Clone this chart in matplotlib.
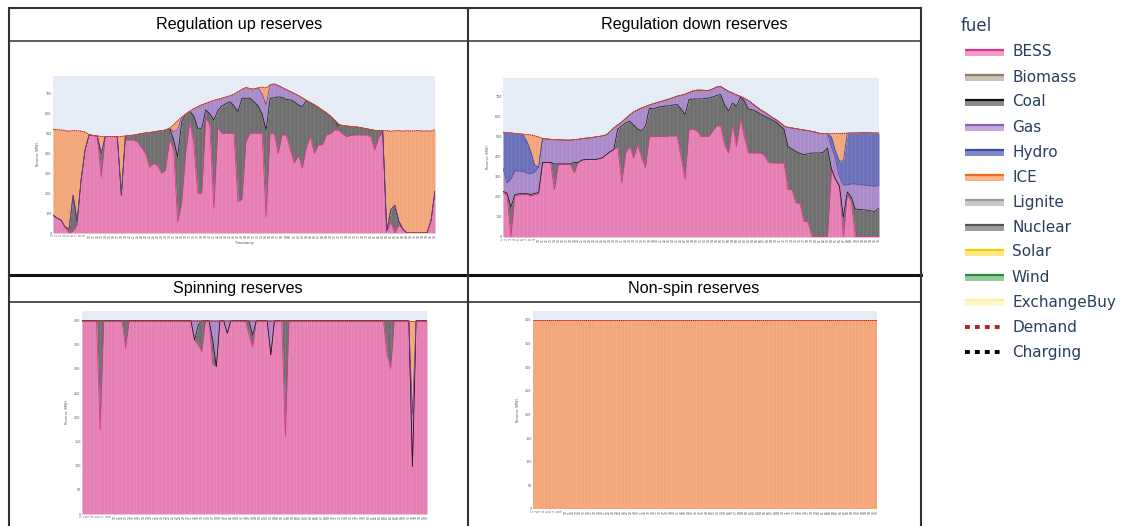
import numpy as np
import matplotlib
matplotlib.use('Agg')
import matplotlib.pyplot as plt

W, H = 1134, 526

# ---- data (96 periods per day) ----
periods = list(range(1, 97))

# Regulation up reserves
ru_bess = [90, 75, 65, 30, 0, 10, 40, 270, 420, 495, 490, 488, 283, 485, 485, 485,
           484, 190, 468, 468, 468, 460, 430, 400, 330, 350, 340, 300, 317, 470, 420, 57,
           150, 400, 560, 450, 200, 200, 577, 544, 124, 530, 502, 502, 502, 502, 158, 170,
           460, 502, 502, 502, 502, 82, 502, 502, 400, 493, 493, 420, 351, 390, 326, 430,
           485, 401, 443, 443, 493, 500, 518, 518, 500, 485, 490, 493, 493, 493, 493, 485,
           417, 480, 510, 10, 56, 0, 40, 20, 0, 0, 0, 0, 0, 0, 60, 210]
ru_coal = [0, 0, 0, 0, 20, 180, 20, 0, 0, 0, 0, 0, 117, 0, 0, 0,
           0, 0, 20, 22, 24, 36, 70, 103, 176, 158, 172, 214, 201, 57, 50, 327,
           410, 198, 52, 140, 327, 327, 43, 56, 445, 85, 138, 148, 159, 138, 453, 508,
           218, 176, 158, 138, 98, 437, 176, 178, 285, 189, 179, 250, 310, 255, 310, 235,
           171, 244, 189, 175, 111, 88, 50, 20, 40, 53, 46, 41, 39, 35, 31, 35,
           99, 35, 4, 0, 60, 140, 20, 0, 0, 0, 0, 0, 0, 0, 0, 0]
ru_gas = [0, 0, 0, 0, 0, 0, 0, 0, 0, 0, 0, 0, 0, 0, 0, 0,
          0, 0, 0, 0, 0, 0, 0, 0, 0, 0, 0, 0, 0, 0, 40, 136,
          22, 0, 0, 35, 108, 118, 32, 60, 98, 57, 38, 34, 29, 58, 99, 44,
          54, 48, 64, 90, 100, 126, 67, 70, 57, 50, 50, 42, 41, 47, 44, 3,
          0, 0, 0, 0, 0, 0, 0, 10, 0, 0, 0, 0, 0, 0, 0, 0,
          0, 0, 0, 0, 0, 0, 0, 0, 0, 0, 0, 0, 0, 0, 0, 0]
ru_ice = [432, 445, 453, 486, 492, 325, 454, 242, 88, 0, 0, 0, 86, 0, 0, 0,
          0, 296, 0, 0, 0, 0, 0, 0, 0, 0, 0, 0, 0, 0, 35, 45,
          0, 0, 0, 0, 0, 0, 0, 0, 0, 0, 0, 0, 0, 0, 0, 0,
          0, 0, 0, 0, 34, 85, 0, 0, 0, 0, 0, 0, 0, 0, 0, 0,
          0, 0, 0, 0, 0, 0, 0, 0, 0, 0, 0, 0, 0, 0, 0, 0,
          0, 0, 0, 505, 396, 374, 455, 492, 515, 513, 514, 516, 512, 514, 452, 310]
ru_demand = [522, 520, 518, 516, 512, 515, 514, 512, 508, 495, 490, 488, 486, 485, 485, 485,
             484, 486, 488, 490, 492, 496, 500, 503, 506, 508, 512, 514, 518, 527, 545, 565,
             582, 598, 612, 625, 635, 645, 652, 660, 667, 672, 678, 684, 690, 698, 710, 722,
             732, 726, 724, 730, 734, 730, 745, 750, 742, 732, 722, 712, 702, 692, 680, 668,
             656, 645, 632, 618, 604, 588, 568, 548, 540, 538, 536, 534, 532, 528, 524, 520,
             516, 515, 514, 515, 512, 514, 515, 512, 515, 513, 514, 516, 512, 514, 512, 520]

# Regulation down reserves
rd_bess = [220, 212, 3, 205, 210, 212, 212, 205, 212, 215, 373, 373, 373, 237, 365, 365,
           365, 365, 320, 373, 385, 387, 387, 387, 390, 395, 410, 425, 437, 450, 270, 420,
           453, 395, 462, 400, 345, 503, 503, 503, 503, 503, 505, 505, 505, 400, 287, 537,
           540, 530, 503, 503, 503, 530, 557, 555, 460, 420, 560, 453, 587, 500, 420, 420,
           420, 420, 410, 375, 370, 370, 370, 370, 237, 237, 170, 170, 78, 78, 3, 3,
           3, 3, 3, 337, 287, 253, 3, 210, 180, 3, 3, 3, 3, 3, 3, 3]
rd_coal = [8, 8, 147, 7, 6, 6, 6, 7, 6, 7, 0, 0, 0, 128, 0, 0,
           0, 0, 53, 0, 0, 0, 0, 0, 0, 0, 0, 0, 0, 90, 285, 150,
           127, 165, 78, 130, 208, 142, 137, 145, 149, 152, 150, 155, 157, 240, 325, 150,
           150, 160, 187, 189, 192, 170, 151, 157, 200, 210, 110, 200, 113, 180, 220, 215,
           208, 195, 195, 220, 215, 205, 185, 170, 216, 203, 258, 248, 334, 337, 417, 417,
           417, 422, 442, 3, 3, 3, 97, 15, 20, 137, 135, 133, 131, 127, 125, 142]
rd_gas = [117, 50, 140, 118, 114, 110, 102, 103, 107, 128, 119, 117, 115, 122, 121, 120,
          119, 119, 113, 115, 107, 107, 109, 112, 112, 110, 100, 100, 108, 20, 20, 22,
          30, 65, 95, 115, 99, 15, 26, 24, 26, 29, 35, 37, 42, 68, 102, 35,
          40, 44, 44, 41, 38, 40, 42, 40, 80, 98, 50, 57, 3, 13, 42, 32,
          24, 22, 20, 17, 13, 12, 17, 15, 95, 105, 114, 120, 123, 117, 108, 104,
          98, 92, 72, 110, 100, 44, 160, 35, 65, 125, 124, 124, 124, 126, 126, 113]
rd_hydro = [178, 252, 230, 188, 186, 186, 160, 115, 35, 0, 0, 0, 0, 0, 0, 0,
            0, 0, 0, 0, 0, 0, 0, 0, 0, 0, 0, 0, 0, 0, 0, 0,
            0, 0, 0, 0, 0, 0, 0, 0, 0, 0, 0, 0, 0, 0, 0, 0,
            0, 0, 0, 0, 0, 0, 0, 0, 0, 0, 0, 0, 0, 0, 0, 0,
            0, 0, 0, 0, 0, 0, 0, 0, 0, 0, 0, 0, 0, 0, 0, 0,
            0, 0, 0, 50, 40, 80, 120, 259, 255, 255, 259, 263, 264, 265, 266, 262]
rd_ice = [0, 0, 0, 0, 0, 0, 32, 80, 146, 150, 0, 0, 0, 0, 0, 0,
          0, 0, 0, 0, 0, 0, 0, 0, 0, 0, 0, 0, 0, 0, 0, 0,
          0, 0, 0, 0, 0, 0, 0, 0, 0, 0, 0, 0, 0, 0, 0, 0,
          0, 0, 0, 0, 0, 0, 0, 0, 0, 0, 0, 0, 0, 0, 0, 0,
          0, 0, 0, 0, 0, 0, 0, 0, 0, 0, 0, 0, 0, 0, 0, 0,
          0, 0, 0, 17, 87, 137, 138, 0, 0, 0, 0, 0, 0, 0, 0, 0]
rd_demand = [523, 522, 520, 518, 516, 514, 512, 510, 506, 500, 492, 490, 488, 487, 486, 485,
             484, 484, 486, 488, 492, 494, 496, 499, 502, 505, 510, 525, 545, 560, 575, 592,
             610, 625, 635, 645, 652, 660, 666, 672, 678, 684, 690, 697, 704, 708, 714, 722,
             730, 734, 734, 733, 733, 740, 750, 752, 740, 728, 720, 710, 703, 693, 682, 667,
             652, 637, 625, 612, 598, 587, 572, 555, 548, 545, 542, 538, 535, 532, 528, 524,
             518, 517, 517, 517, 517, 517, 518, 519, 520, 520, 521, 523, 522, 521, 520, 520]

# Spinning reserves
sp_bess = [400, 400, 400, 400, 400, 174, 400, 400, 400, 400, 400, 400, 343, 400, 400, 400,
           400, 400, 400, 400, 400, 400, 400, 400, 400, 400, 400, 400, 400, 400, 400, 360,
           350, 336, 400, 400, 310, 305, 400, 400, 374, 400, 400, 400, 400, 400, 370, 345,
           400, 400, 400, 400, 329, 400, 400, 400, 160, 400, 400, 400, 400, 400, 400, 400,
           400, 400, 400, 400, 400, 400, 400, 400, 400, 400, 400, 400, 400, 400, 400, 400,
           400, 400, 400, 400, 330, 301, 400, 400, 400, 400, 400, 98, 400, 400, 400, 400]
sp_coal = [0, 0, 0, 0, 0, 226, 0, 0, 0, 0, 0, 0, 57, 0, 0, 0,
           0, 0, 0, 0, 0, 0, 0, 0, 0, 0, 0, 0, 0, 0, 0, 0,
           40, 64, 0, 0, 50, 0, 0, 0, 0, 0, 0, 0, 0, 0, 30, 25,
           0, 0, 0, 0, 0, 0, 0, 0, 240, 0, 0, 0, 0, 0, 0, 0,
           0, 0, 0, 0, 0, 0, 0, 0, 0, 0, 0, 0, 0, 0, 0, 0,
           0, 0, 0, 0, 70, 99, 0, 0, 0, 0, 0, 0, 0, 0, 0, 0]
sp_gas = [0, 0, 0, 0, 0, 0, 0, 0, 0, 0, 0, 0, 0, 0, 0, 0,
          0, 0, 0, 0, 0, 0, 0, 0, 0, 0, 0, 0, 0, 0, 0, 40,
          10, 0, 0, 0, 40, 95, 0, 0, 26, 0, 0, 0, 0, 0, 0, 30,
          0, 0, 0, 0, 71, 0, 0, 0, 0, 0, 0, 0, 0, 0, 0, 0,
          0, 0, 0, 0, 0, 0, 0, 0, 0, 0, 0, 0, 0, 0, 0, 0,
          0, 0, 0, 0, 0, 0, 0, 0, 0, 0, 0, 110, 0, 0, 0, 0]
sp_ice = [0, 0, 0, 0, 0, 0, 0, 0, 0, 0, 0, 0, 0, 0, 0, 0,
          0, 0, 0, 0, 0, 0, 0, 0, 0, 0, 0, 0, 0, 0, 0, 0,
          0, 0, 0, 0, 0, 0, 0, 0, 0, 0, 0, 0, 0, 0, 0, 0,
          0, 0, 0, 0, 0, 0, 0, 0, 0, 0, 0, 0, 0, 0, 0, 0,
          0, 0, 0, 0, 0, 0, 0, 0, 0, 0, 0, 0, 0, 0, 0, 0,
          0, 0, 0, 0, 0, 0, 0, 0, 0, 0, 0, 192, 0, 0, 0, 0]
sp_demand = [400] * 96

# Non-spin reserves
ns_ice = [400] * 96
ns_demand = [400] * 96

# ---- styles ----
BG = '#e5ecf6'
FILL = {'BESS': '#e67fb3', 'Coal': '#6f6f6f', 'Gas': '#a98bc9',
        'Hydro': '#6a70b9', 'ICE': '#f2a67a'}
LINE = {'BESS': '#e0308a', 'Coal': '#1a1a1a', 'Gas': '#6b4596',
        'Hydro': '#3a47a5', 'ICE': '#f07030'}

legend_items = [('BESS', '#e0358c', '#f29cc6'), ('Biomass', '#8b7d6b', '#cdc2b4'),
                ('Coal', '#111111', '#8a8a8a'), ('Gas', '#8a63b8', '#c3a9dd'),
                ('Hydro', '#3e4aa8', '#8189c9'), ('ICE', '#f26b21', '#f8b58a'),
                ('Lignite', '#9a9a9a', '#c9c9c9'), ('Nuclear', '#555555', '#9c9c9c'),
                ('Solar', '#f5d000', '#fbe98a'), ('Wind', '#2e8b3e', '#94cb9c'),
                ('ExchangeBuy', '#fdeea0', '#fff6cc')]
dotted_items = [('Demand', '#b22222'), ('Charging', '#000000')]

fig = plt.figure(figsize=(W / 100, H / 100), dpi=100)


def px_axes(x1, y1, x2, y2):
    return fig.add_axes([x1 / W, 1 - y2 / H, (x2 - x1) / W, (y2 - y1) / H])


def draw_panel(ax, layers, demand, ymax, yticks, xlabel=None):
    x = np.arange(len(demand))
    ax.set_facecolor(BG)
    base = np.zeros(len(x))
    tops = []
    for name, vals in layers:
        top = base + np.array(vals, dtype=float)
        ax.fill_between(x, base, top, color=FILL[name], lw=0, zorder=2)
        tops.append((name, top))
        base = top
    ax.vlines(x, 0, ymax, color='white', lw=0.4, alpha=0.15, zorder=2.5)
    for name, top in tops:
        ax.plot(x, top, color=LINE[name], lw=0.55, zorder=3)
    ax.plot(x, demand, color='#b22222', lw=0.7, ls=(0, (1, 1)), zorder=4)
    ax.set_xlim(0, len(x) - 1)
    ax.set_ylim(0, ymax)
    ax.set_xticks(x)
    ax.set_xticklabels(periods, fontsize=2.2, rotation=90, color='#555555')
    ax.set_yticks(yticks)
    ax.set_yticklabels(yticks, fontsize=2.4, color='#555555')
    ax.tick_params(length=0, pad=1)
    ax.set_ylabel('Reserve (MW)', fontsize=2.4, color='#555555', labelpad=4)
    if xlabel:
        ax.set_xlabel(xlabel, fontsize=2.4, color='#555555', labelpad=2)
    for s in ax.spines.values():
        s.set_visible(False)


ax1 = px_axes(53, 76, 435, 233)
draw_panel(ax1, [('BESS', ru_bess), ('Coal', ru_coal), ('Gas', ru_gas), ('ICE', ru_ice)],
           ru_demand, 790, [0, 100, 200, 300, 400, 500, 600, 700], 'Timestamp')

ax2 = px_axes(503, 78, 879, 237)
draw_panel(ax2, [('BESS', rd_bess), ('Coal', rd_coal), ('Gas', rd_gas),
                 ('Hydro', rd_hydro), ('ICE', rd_ice)],
           rd_demand, 795, [0, 100, 200, 300, 400, 500, 600, 700])

ax3 = px_axes(82, 311, 427, 514)
draw_panel(ax3, [('BESS', sp_bess), ('Coal', sp_coal), ('Gas', sp_gas), ('ICE', sp_ice)],
           sp_demand, 420, [0, 50, 100, 150, 200, 250, 300, 350, 400])

ax4 = px_axes(533, 311, 877, 509)
draw_panel(ax4, [('ICE', ns_ice)], ns_demand, 419, [0, 50, 100, 150, 200, 250, 300, 350, 400])

# ---- overlay: table frame, headers, legend ----
ov = fig.add_axes([0, 0, 1, 1], zorder=-1)
ov.set_xlim(0, W)
ov.set_ylim(H, 0)
ov.axis('off')

bc = '#333333'
ov.plot([9, 921], [8, 8], color=bc, lw=1.5)
ov.plot([9, 921], [41, 41], color=bc, lw=1.1)
ov.plot([9, 921], [275, 275], color='#111111', lw=2.2)
ov.plot([9, 921], [302, 302], color=bc, lw=1.2)
for xv in (9, 468, 921):
    ov.plot([xv, xv], [8, H + 5], color=bc, lw=1.5)

hfont = dict(family='Liberation Sans', fontsize=11.6, color='black', ha='center', va='center')
ov.text(239, 25, 'Regulation up reserves', **hfont)
ov.text(694, 25, 'Regulation down reserves', **hfont)
ov.text(238, 289, 'Spinning reserves', **hfont)
ov.text(694, 289, 'Non-spin reserves', **hfont)

tcol = '#2a3f5f'
ov.text(961, 26, 'fuel', fontsize=12, color=tcol, ha='left', va='center')
for r, (name, lc, fc) in enumerate(legend_items):
    yc = 52 + 25 * r
    ov.fill_between([965, 1004], yc - 2, yc + 4, color=fc, lw=0)
    ov.plot([965, 1004], [yc - 2.5, yc - 2.5], color=lc, lw=1.6, solid_capstyle='butt')
    ov.text(1012, yc, name, fontsize=11, color=tcol, ha='left', va='center')
for k, (name, lc) in enumerate(dotted_items):
    yc = 52 + 25 * (len(legend_items) + k)
    ov.plot([965, 1004], [yc, yc], color=lc, lw=2.8, ls=(0, (1.25, 1.3)), solid_capstyle='butt')
    ov.text(1012, yc, name, fontsize=11, color=tcol, ha='left', va='center')

fig.savefig('out.png', dpi=100)
